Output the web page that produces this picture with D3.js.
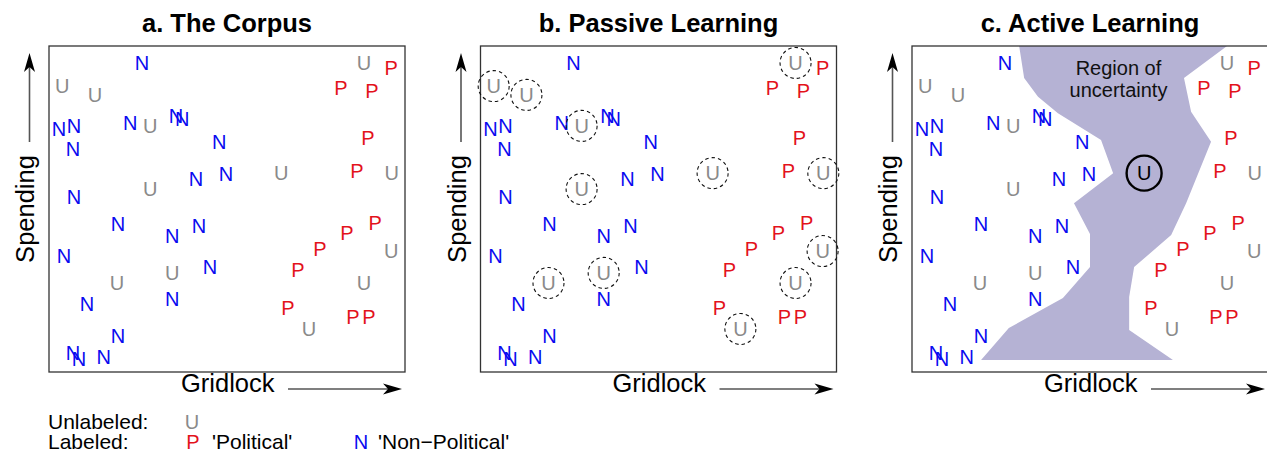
<!DOCTYPE html>
<html>
<head>
<meta charset="utf-8">
<script src="https://cdn.jsdelivr.net/npm/d3@7"></script>
<style>
  body { margin: 0; background: #fff; }
  svg text { font-family: "Liberation Sans", Arial, Helvetica, sans-serif; }
</style>
</head>
<body>
<div id="chart"></div>
<script>

// panel titles
var panelTitles = ["a. The Corpus", "b. Passive Learning", "c. Active Learning"];

// documents: label, gridlock (x), spending (y) -- same corpus in every panel
var docLabel = ["N","U","U","U","P","P","P","N","N","N","U","N","N","N","N","P","P","U","U","N","N","U","N",
                "N","N","N","N","U","U","N","N","N","N","N","N","N","P","P","P","P","U","U","P","U","P","P"];
var docGridlock = [26.1,3.7,12.9,88.5,96.1,82.0,90.7,2.8,7.0,22.8,28.4,35.7,37.4,6.7,47.8,89.6,86.5,96.3,65.2,41.3,49.7,28.4,7.0,
                   19.4,34.6,42.1,4.2,19.1,34.6,45.2,34.6,10.7,19.4,6.7,8.4,15.4,91.6,83.7,76.1,69.9,96.1,88.5,67.1,73.0,85.4,89.9];
var docSpending = [94.8,87.7,85.0,94.8,93.3,87.1,86.2,74.5,75.5,76.4,75.5,78.5,77.6,68.4,70.6,71.8,61.7,61.0,61.0,59.2,60.7,56.1,53.7,
                   45.4,41.7,44.8,35.6,27.3,30.4,32.2,22.4,20.9,11.0,5.8,4.0,4.6,45.7,42.6,37.7,31.3,37.1,27.3,19.6,13.2,16.9,16.9];

// the document picked by active learning (index into the arrays above)
var activePick = 18;

// region of uncertainty outline (panel c)
var regionGridlock = [30.1,31.5,35.4,41.0,53.1,56.5,45.5,50.0,50.0,42.4,27.2,19.4,73.3,61.0,61.0,62.4,72.8,77.0,84.0,78.4,76.4,88.5];
var regionSpending = [100,90.2,84.4,79.4,71.2,61.0,51.8,42.3,32.2,22.7,13.5,3.7,3.7,12.9,23.0,32.2,42.0,51.8,70.6,79.8,90.2,100];

var colors = { N: "#0a0af0", P: "#e3121b", U: "#8a8a8a" };

var W = 1267, H = 455;
var panelLeft = [49, 480.5, 912];
var boxW = 356, boxTop = 46, boxH = 326;

var svg = d3.select("#chart").append("svg")
  .attr("width", W)
  .attr("height", H);

var x = d3.scaleLinear().domain([0, 100]).range([0, boxW]);
var y = d3.scaleLinear().domain([0, 100]).range([boxH, 0]);

function arrowHead(g, tx, ty, dir) {
  // stealth style head pointing right (dir 0) or up (dir -90)
  g.append("path")
    .attr("d", "M0,0 L-19,-5.5 L-14,0 L-19,5.5 Z")
    .attr("transform", "translate(" + tx + "," + ty + ") rotate(" + dir + ")")
    .attr("fill", "#000");
}

panelTitles.forEach(function(title, p) {
  var left = panelLeft[p];
  var g = svg.append("g").attr("transform", "translate(" + left + "," + boxTop + ")");

  svg.append("text")
    .attr("x", left + boxW / 2)
    .attr("y", 32)
    .attr("text-anchor", "middle")
    .attr("font-size", 25.5)
    .attr("font-weight", "bold")
    .text(title);

  if (p == 2) {
    var pts = regionGridlock.map(function(d, i) { return [x(d), y(regionSpending[i])]; });
    g.append("path")
      .attr("d", d3.line()(pts) + "Z")
      .attr("fill", "#b5b2d4");
    g.append("text")
      .attr("x", x(58)).attr("y", 29)
      .attr("text-anchor", "middle")
      .attr("font-size", 20)
      .attr("fill", "#111")
      .text("Region of");
    g.append("text")
      .attr("x", x(58)).attr("y", 51)
      .attr("text-anchor", "middle")
      .attr("font-size", 20)
      .attr("fill", "#111")
      .text("uncertainty");
  }

  g.append("rect")
    .attr("x", 0).attr("y", 0)
    .attr("width", boxW).attr("height", boxH)
    .attr("fill", "none")
    .attr("stroke", "#333")
    .attr("stroke-width", 1.3);

  docLabel.forEach(function(lab, i) {
    var cx = x(docGridlock[i]), cy = y(docSpending[i]);
    var col = colors[lab];
    if (p == 2 && i == activePick) col = "#000";
    g.append("text")
      .attr("x", cx).attr("y", cy)
      .attr("dy", "0.36em")
      .attr("text-anchor", "middle")
      .attr("font-size", 20)
      .attr("fill", col)
      .text(lab);
    if (p == 1 && lab == "U") {
      g.append("circle")
        .attr("cx", cx).attr("cy", cy).attr("r", 15.5)
        .attr("fill", "none")
        .attr("stroke", "#111")
        .attr("stroke-width", 1.1)
        .attr("stroke-dasharray", "3.5,3");
    }
    if (p == 2 && i == activePick) {
      g.append("circle")
        .attr("cx", cx).attr("cy", cy).attr("r", 17.5)
        .attr("fill", "none")
        .attr("stroke", "#000")
        .attr("stroke-width", 2.4);
    }
  });

  // x axis label + arrow
  svg.append("text")
    .attr("x", left + 132)
    .attr("y", 392)
    .attr("font-size", 25.5)
    .text("Gridlock");
  svg.append("line")
    .attr("x1", left + 239).attr("x2", left + 340)
    .attr("y1", 389).attr("y2", 389)
    .attr("stroke", "#555").attr("stroke-width", 1.6);
  arrowHead(svg, left + 353, 389, 0);

  // y axis label + arrow
  svg.append("text")
    .attr("transform", "translate(" + (left - 15) + "," + 209 + ") rotate(-90)")
    .attr("text-anchor", "middle")
    .attr("font-size", 25.5)
    .text("Spending");
  svg.append("line")
    .attr("x1", left - 19.5).attr("x2", left - 19.5)
    .attr("y1", 142).attr("y2", 66)
    .attr("stroke", "#555").attr("stroke-width", 1.6);
  arrowHead(svg, left - 19.5, 53, -90);
});

// legend
var legend = svg.append("g");
legend.append("text").attr("x", 48).attr("y", 429).attr("font-size", 21).text("Unlabeled:");
legend.append("text").attr("x", 48).attr("y", 449).attr("font-size", 21).text("Labeled:");
legend.append("text").attr("x", 192).attr("y", 429).attr("text-anchor", "middle").attr("font-size", 20).attr("fill", colors.U).text("U");
legend.append("text").attr("x", 193).attr("y", 449).attr("text-anchor", "middle").attr("font-size", 20).attr("fill", colors.P).text("P");
legend.append("text").attr("x", 212).attr("y", 449).attr("font-size", 21).text("'Political'");
legend.append("text").attr("x", 361).attr("y", 449).attr("text-anchor", "middle").attr("font-size", 20).attr("fill", colors.N).text("N");
legend.append("text").attr("x", 378).attr("y", 449).attr("font-size", 21).text("'Non\u2212Political'");

</script>
</body>
</html>
